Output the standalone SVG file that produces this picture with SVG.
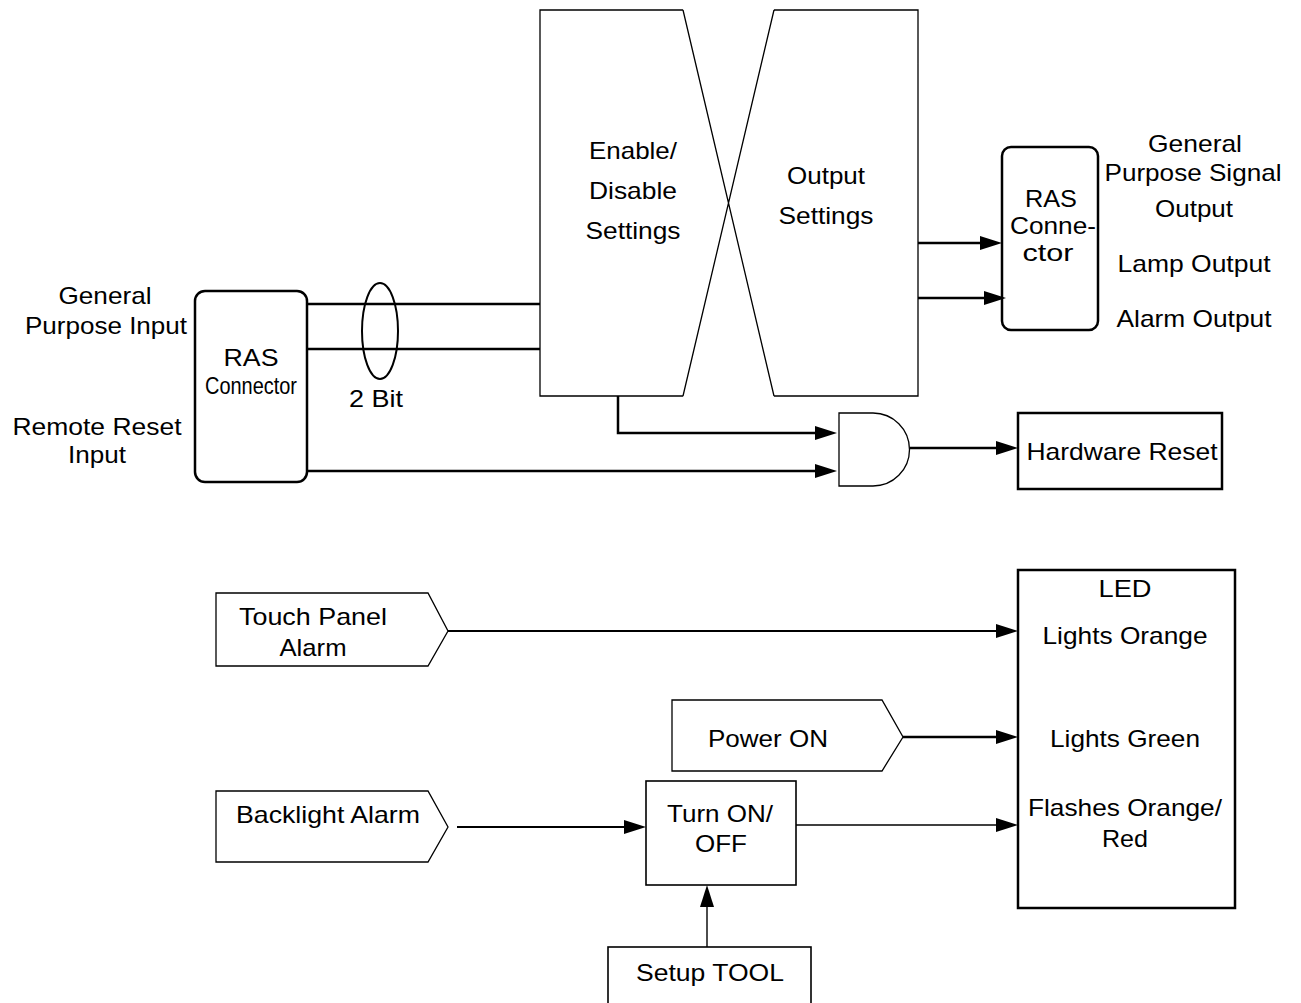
<svg xmlns="http://www.w3.org/2000/svg" width="1301" height="1003" viewBox="0 0 1301 1003">
<style>
  text { font-family: "Liberation Sans", Arial, sans-serif; font-size: 24px; fill: #000; text-anchor: middle; }
  .thin { fill: #fff; stroke: #000; stroke-width: 1.3; }
  .box { fill: #fff; stroke: #000; stroke-width: 2.5; }
  .mid { fill: #fff; stroke: #000; stroke-width: 1.6; }
  .wire { fill: none; stroke: #000; stroke-width: 2.5; }
  .wire2 { fill: none; stroke: #000; stroke-width: 2; }
  .wire1 { fill: none; stroke: #000; stroke-width: 1.4; }
  .arr { marker-end: url(#ah); }
</style>
<defs>
  <marker id="ah" markerUnits="userSpaceOnUse" markerWidth="24" markerHeight="16" viewBox="0 -8 24 16" refX="0" refY="0" orient="auto" overflow="visible">
    <path d="M0,-7 L22,0 L0,7 Z" fill="#000"/>
  </marker>
</defs>
<rect width="1301" height="1003" fill="#fff"/>

<g id="settings">
  <path class="thin" d="M683,10 H540 V396 H683 M774,10 H918 V396 H774 M683,10 L774,396 M774,10 L683,396" fill="none"/>
  <text x="633" y="159" textLength="88" lengthAdjust="spacingAndGlyphs">Enable/</text>
  <text x="633" y="199" textLength="88" lengthAdjust="spacingAndGlyphs">Disable</text>
  <text x="633" y="239" textLength="95" lengthAdjust="spacingAndGlyphs">Settings</text>
  <text x="826" y="184" textLength="78" lengthAdjust="spacingAndGlyphs">Output</text>
  <text x="826" y="224" textLength="95" lengthAdjust="spacingAndGlyphs">Settings</text>
</g>

<g id="ras-in">
  <rect class="box" x="195" y="291" width="112" height="191" rx="10"/>
  <text x="251" y="366" textLength="55" lengthAdjust="spacingAndGlyphs">RAS</text>
  <text x="251" y="394" font-size="23" textLength="92" lengthAdjust="spacingAndGlyphs">Connector</text>
</g>

<g id="ras-out">
  <rect class="box" x="1002" y="147" width="96" height="183" rx="9"/>
  <text x="1051" y="207" font-size="22" textLength="52" lengthAdjust="spacingAndGlyphs">RAS</text>
  <text x="1053" y="234" font-size="22" textLength="86" lengthAdjust="spacingAndGlyphs">Conne-</text>
  <text x="1048" y="261" font-size="22" textLength="51" lengthAdjust="spacingAndGlyphs">ctor</text>
</g>

<g id="labels-in">
  <text x="105" y="304" textLength="93" lengthAdjust="spacingAndGlyphs">General</text>
  <text x="106" y="334" textLength="162" lengthAdjust="spacingAndGlyphs">Purpose Input</text>
  <text x="97" y="435" textLength="169" lengthAdjust="spacingAndGlyphs">Remote Reset</text>
  <text x="97" y="463" textLength="58" lengthAdjust="spacingAndGlyphs">Input</text>
</g>

<g id="labels-out">
  <text x="1195" y="152" textLength="94" lengthAdjust="spacingAndGlyphs">General</text>
  <text x="1193" y="181" textLength="177" lengthAdjust="spacingAndGlyphs">Purpose Signal</text>
  <text x="1194" y="217" textLength="78" lengthAdjust="spacingAndGlyphs">Output</text>
  <text x="1194" y="272" textLength="153" lengthAdjust="spacingAndGlyphs">Lamp Output</text>
  <text x="1194" y="327" textLength="155" lengthAdjust="spacingAndGlyphs">Alarm Output</text>
</g>

<g id="bus-2bit">
  <ellipse cx="380" cy="331" rx="18" ry="48" fill="none" stroke="#000" stroke-width="2"/>
  <text x="376" y="407" font-size="20" textLength="54" lengthAdjust="spacingAndGlyphs">2 Bit</text>
</g>

<g id="and-gate">
  <path class="thin" d="M839,413 H873 A36.5,36.5 0 0 1 873,486 H839 Z"/>
</g>

<g id="hardware-reset">
  <rect class="box" x="1018" y="413" width="204" height="76"/>
  <text x="1122" y="460" textLength="191" lengthAdjust="spacingAndGlyphs">Hardware Reset</text>
</g>

<g id="touch-panel">
  <path class="thin" d="M216,593 H428 L448,631 L428,666 H216 Z"/>
  <text x="313" y="625" textLength="148" lengthAdjust="spacingAndGlyphs">Touch Panel</text>
  <text x="313" y="656" textLength="67" lengthAdjust="spacingAndGlyphs">Alarm</text>
</g>

<g id="power-on">
  <path class="thin" d="M672,700 H882 L903,737 L882,771 H672 Z"/>
  <text x="768" y="747" textLength="120" lengthAdjust="spacingAndGlyphs">Power ON</text>
</g>

<g id="backlight">
  <path class="thin" d="M216,791 H428 L448,827 L428,862 H216 Z"/>
  <text x="328" y="823" textLength="184" lengthAdjust="spacingAndGlyphs">Backlight Alarm</text>
</g>

<g id="turn-on-off">
  <rect class="mid" x="646" y="781" width="150" height="104"/>
  <text x="720" y="822" textLength="106" lengthAdjust="spacingAndGlyphs">Turn ON/</text>
  <text x="721" y="852" textLength="52" lengthAdjust="spacingAndGlyphs">OFF</text>
</g>

<g id="setup-tool">
  <rect class="mid" x="608" y="947" width="203" height="70"/>
  <text x="710" y="981" textLength="148" lengthAdjust="spacingAndGlyphs">Setup TOOL</text>
</g>

<g id="led">
  <rect class="box" x="1018" y="570" width="217" height="338"/>
  <text x="1125" y="597" textLength="53" lengthAdjust="spacingAndGlyphs">LED</text>
  <text x="1125" y="644" textLength="165" lengthAdjust="spacingAndGlyphs">Lights Orange</text>
  <text x="1125" y="747" textLength="150" lengthAdjust="spacingAndGlyphs">Lights Green</text>
  <text x="1125" y="816" textLength="194" lengthAdjust="spacingAndGlyphs">Flashes Orange/</text>
  <text x="1125" y="847" textLength="46" lengthAdjust="spacingAndGlyphs">Red</text>
</g>

<g id="connectors">
  <path class="wire" d="M307,304 H540"/>
  <path class="wire" d="M307,349 H540"/>
  <path class="wire arr" d="M307,471 H815"/>
  <path class="wire arr" d="M618,396 V433 H815"/>
  <path class="wire arr" d="M918,243 H980"/>
  <path class="wire arr" d="M918,298 H984"/>
  <path class="wire arr" d="M910,448 H996"/>
  <path class="wire2 arr" d="M448,631 H996"/>
  <path class="wire arr" d="M903,737 H996"/>
  <path class="wire2 arr" d="M457,827 H624"/>
  <path class="wire1 arr" d="M796,825 H996"/>
  <path class="wire1 arr" d="M707,947 V907"/>
</g>
</svg>
